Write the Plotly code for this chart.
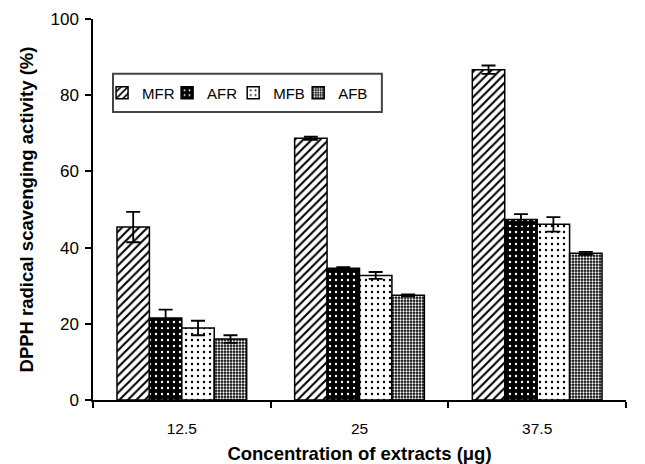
import plotly.graph_objects as go

categories = ["12.5", "25", "37.5"]
series = ["MFR", "AFR", "MFB", "AFB"]
values = {
    "MFR": [45.4, 68.7, 86.7],
    "AFR": [21.5, 34.6, 47.4],
    "MFB": [18.9, 32.7, 46.1],
    "AFB": [16.0, 27.5, 38.5],
}
errors = {
    "MFR": [4.0, 0.4, 1.1],
    "AFR": [2.2, 0.3, 1.4],
    "MFB": [1.9, 0.9, 1.9],
    "AFB": [1.0, 0.2, 0.4],
}
patterns = {
    "MFR": dict(shape="/", bgcolor="white", fgcolor="black", size=6, solidity=0.35, fillmode="replace"),
    "AFR": dict(shape=".", bgcolor="black", fgcolor="white", size=6, solidity=0.12, fillmode="replace"),
    "MFB": dict(shape=".", bgcolor="white", fgcolor="black", size=6, solidity=0.12, fillmode="replace"),
    "AFB": dict(shape=".", bgcolor="black", fgcolor="white", size=3, solidity=0.45, fillmode="replace"),
}
legend_ids = ["legend", "legend2", "legend3", "legend4"]
legend_x = [0.017, 0.139, 0.263, 0.385]

fig = go.Figure()
for s, lid in zip(series, legend_ids):
    fig.add_trace(go.Bar(
        name=s, x=categories, y=values[s], legend=lid,
        marker=dict(color="white", line=dict(color="black", width=1.5), pattern=patterns[s]),
        error_y=dict(type="data", array=errors[s], visible=True, color="black", thickness=1.8, width=7),
    ))

legend_style = dict(orientation="h", y=0.806, xanchor="left", yanchor="middle",
                    borderwidth=0, font=dict(size=15), itemwidth=30,
                    bgcolor="rgba(0,0,0,0)")
layout_legends = {lid: dict(x=lx, **legend_style) for lid, lx in zip(legend_ids, legend_x)}

fig.update_layout(
    barmode="group", bargap=0.27, bargroupgap=0,
    width=645, height=464,
    margin=dict(l=93, r=19, t=19, b=64, autoexpand=False),
    paper_bgcolor="white", plot_bgcolor="white",
    font=dict(family="Liberation Sans, Arial, sans-serif", color="black", size=15),
    showlegend=True,
    shapes=[dict(type="rect", xref="paper", yref="paper",
                 x0=0.0375, x1=0.542, y0=0.756, y1=0.856,
                 line=dict(color="#444", width=2), fillcolor="rgba(0,0,0,0)", layer="above")],
    **layout_legends,
)
fig.update_xaxes(
    automargin=False,
    showline=True, linecolor="black", linewidth=1.5, ticks="outside", ticklen=6,
    tickson="boundaries", tickcolor="black", tickwidth=1.5, showgrid=False,
    tickfont=dict(size=15.5), ticklabelstandoff=14,
    title=dict(text="<b>Concentration of extracts (μg)</b>", font=dict(size=18.5), standoff=13),
)
fig.update_yaxes(
    automargin=False,
    range=[0, 100], dtick=20, showline=True, linecolor="black", linewidth=1.5,
    ticks="outside", ticklen=6, tickcolor="black", tickwidth=1.5, showgrid=False,
    zeroline=False, tickfont=dict(size=17), ticklabelstandoff=3,
    title=dict(text="<b>DPPH radical scavenging activity (%)</b>", font=dict(size=18.5), standoff=12),
)

fig.write_html("out.html")
